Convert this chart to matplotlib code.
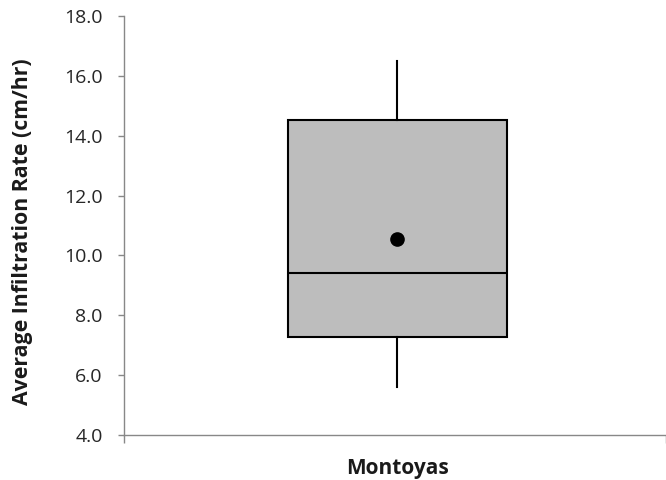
import matplotlib
matplotlib.use("Agg")
import matplotlib.pyplot as plt

# Summary statistics of infiltration rate (cm/hr)
site = "Montoyas"
q1, median, q3 = 7.27, 9.41, 14.53
whisker_low, whisker_high = 5.60, 16.50
mean_rate = 10.55

plt.rcParams["font.family"] = ["Open Sans", "DejaVu Sans"]

W, H = 666, 480
fig = plt.figure(figsize=(W / 100, H / 100), dpi=100)
ax = fig.add_axes([123.5 / W, 45 / H, 542.5 / W, 419 / H])

stats = [{
    "label": site,
    "q1": q1, "med": median, "q3": q3,
    "whislo": whisker_low, "whishi": whisker_high,
    "mean": mean_rate, "fliers": [],
}]
ax.bxp(stats, positions=[0.505], widths=0.404, patch_artist=True,
       showcaps=False, showmeans=True, showfliers=False,
       boxprops=dict(facecolor="#bdbdbd", edgecolor="black", linewidth=1.5),
       medianprops=dict(color="black", linewidth=1.5),
       whiskerprops=dict(color="black", linewidth=1.5),
       meanprops=dict(marker="o", markerfacecolor="black",
                      markeredgecolor="black", markersize=9.5))

ax.set_xlim(0, 1)
ax.set_ylim(4, 18)
ax.set_yticks([4, 6, 8, 10, 12, 14, 16, 18])
ax.set_yticklabels([f"{v:.1f}" for v in range(4, 19, 2)])
ax.set_xticks([0, 1])
ax.set_xticklabels(["", ""])

for s in ("top", "right"):
    ax.spines[s].set_visible(False)
for s in ("left", "bottom"):
    ax.spines[s].set_color("#888888")
    ax.spines[s].set_linewidth(1.0)

ax.tick_params(axis="y", direction="out", length=4.5, width=1.0,
               color="#888888", labelsize=14, labelcolor="#262626", pad=10.5)
ax.tick_params(axis="x", direction="out", length=5.5, width=1.0,
               color="#888888")

fig.text(23 / W, 1 - 231.5 / H, "Average Infiltration Rate (cm/hr)",
         rotation=90, ha="center", va="center", fontsize=15.3,
         fontweight="bold", color="#1a1a1a")
ax.text(0.505, -0.079, site, transform=ax.transAxes, ha="center", va="center",
        fontsize=15, fontweight="bold", color="#1a1a1a")

fig.savefig("out.png", dpi=100)
